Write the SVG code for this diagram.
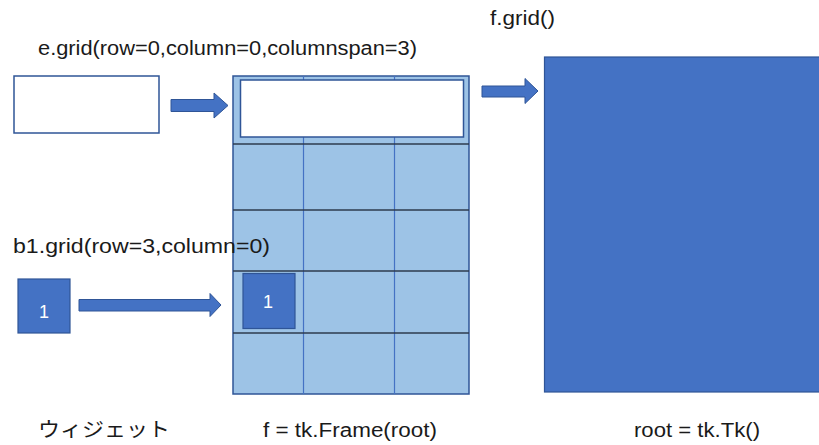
<svg xmlns="http://www.w3.org/2000/svg" width="819" height="445" viewBox="0 0 819 445">
<style>
text{font-family:"Liberation Sans","Noto Sans CJK JP",sans-serif;fill:#1a1a1a}
.lbl{font-size:20px}
.num{font-size:18px;fill:#fff}
.arrow{fill:#4472c4;stroke:#2f5597;stroke-width:1}
.btn{fill:#4472c4;stroke:#2f5597;stroke-width:1.2}
.white{fill:#fff;stroke:#2f5597;stroke-width:1.5}
.rowline{stroke:#2e3b4e;stroke-width:1.5}
.colline{stroke:#4472c4;stroke-width:1.2}
</style>
<g id="widget-entry">
<rect class="white" x="14" y="76" width="145" height="57"/>
</g>
<g id="widget-button">
<rect class="btn" x="18" y="279" width="52" height="54"/>
<text class="num" x="44" y="318" text-anchor="middle">1</text>
</g>
<g id="frame">
<rect x="233" y="76" width="236" height="318" fill="#9dc3e6" stroke="#2f5597" stroke-width="1.5"/>
<line class="colline" x1="303.5" y1="76" x2="303.5" y2="394"/>
<line class="colline" x1="394.5" y1="76" x2="394.5" y2="394"/>
<line class="rowline" x1="233" y1="144" x2="469" y2="144"/>
<line class="rowline" x1="233" y1="210" x2="469" y2="210"/>
<line class="rowline" x1="233" y1="271" x2="469" y2="271"/>
<line class="rowline" x1="233" y1="333" x2="469" y2="333" stroke="#111"/>
<rect class="white" x="240.5" y="80" width="223" height="57"/>
<rect class="btn" x="243" y="273.5" width="52" height="55"/>
<text class="num" x="268" y="308" text-anchor="middle">1</text>
</g>
<g id="root">
<rect x="544.5" y="57" width="280" height="335" fill="#4472c4" stroke="#2f5597" stroke-width="1.2"/>
</g>
<g id="connectors">
<polygon class="arrow" points="171,99.5 214,99.5 214,93 228,105.5 214,118 214,111.5 171,111.5"/>
<polygon class="arrow" points="79,299.5 210,299.5 210,293.5 221,305 210,316.5 210,311 79,311"/>
<polygon class="arrow" points="482,86 525,86 525,78.5 538,91 525,103.5 525,97 482,97"/>
</g>
<g id="labels">
<text class="lbl" x="38" y="55" textLength="379" lengthAdjust="spacingAndGlyphs">e.grid(row=0,column=0,columnspan=3)</text>
<text class="lbl" x="490" y="25" textLength="65" lengthAdjust="spacingAndGlyphs">f.grid()</text>
<text class="lbl" x="13" y="253" textLength="257" lengthAdjust="spacingAndGlyphs">b1.grid(row=3,column=0)</text>
<text class="lbl" x="38" y="437" textLength="132" lengthAdjust="spacingAndGlyphs">ウィジェット</text>
<text class="lbl" x="263" y="437" textLength="174" lengthAdjust="spacingAndGlyphs">f = tk.Frame(root)</text>
<text class="lbl" x="634" y="437" textLength="126" lengthAdjust="spacingAndGlyphs">root = tk.Tk()</text>
</g>
</svg>
